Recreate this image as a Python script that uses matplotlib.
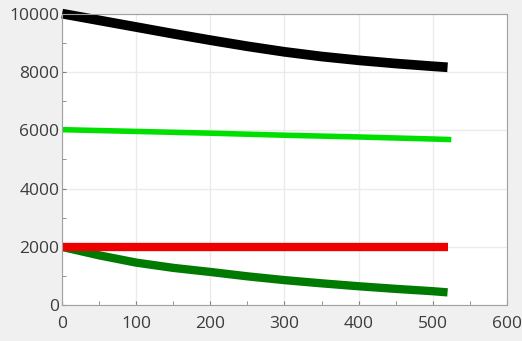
import matplotlib.pyplot as plt

x_black = [0, 50, 100, 150, 200, 250, 300, 350, 400, 450, 500, 520]
y_black = [10000, 9770, 9540, 9310, 9090, 8880, 8690, 8530, 8400, 8290, 8195, 8160]

x_light = [0, 100, 200, 300, 400, 500, 525]
y_light = [6020, 5960, 5900, 5830, 5770, 5700, 5680]

x_red = [0, 520]
y_red = [2000, 2000]

x_dark = [0, 50, 100, 150, 200, 250, 300, 350, 400, 450, 500, 520]
y_dark = [2000, 1710, 1460, 1280, 1140, 990, 860, 750, 650, 560, 480, 440]

plt.rcParams['font.family'] = ['Open Sans', 'DejaVu Sans']

fig = plt.figure(figsize=(5.22, 3.41), dpi=100, facecolor='#f0f0f0')
ax = fig.add_axes([0.119, 0.105, 0.852, 0.855])
ax.set_facecolor('white')

ax.plot(x_light, y_light, color='#00e000', lw=4, solid_capstyle='butt')
ax.plot(x_black, y_black, color='black', lw=7, solid_capstyle='butt', clip_on=False)
ax.plot(x_dark, y_dark, color='#007a00', lw=6, solid_capstyle='butt')
ax.plot(x_red, y_red, color='#ee0000', lw=6, solid_capstyle='butt')

ax.set_xlim(0, 600)
ax.set_ylim(0, 10000)
ax.set_xticks(range(0, 601, 100))
ax.set_xticks(range(50, 600, 100), minor=True)
ax.set_yticks(range(0, 10001, 2000))
ax.set_yticks(range(1000, 10000, 2000), minor=True)
ax.grid(True, which='major', color='#ebebeb', lw=1)
ax.set_axisbelow(True)
ax.tick_params(which='both', direction='in', length=3, color='#808080',
               labelsize=12.5, labelcolor='#3c3c3c')
ax.tick_params(axis='x', pad=8)
ax.tick_params(axis='y', pad=2)
for s in ax.spines.values():
    s.set_color('#a0a0a0')

fig.savefig('out.png', dpi=100, facecolor=fig.get_facecolor())
